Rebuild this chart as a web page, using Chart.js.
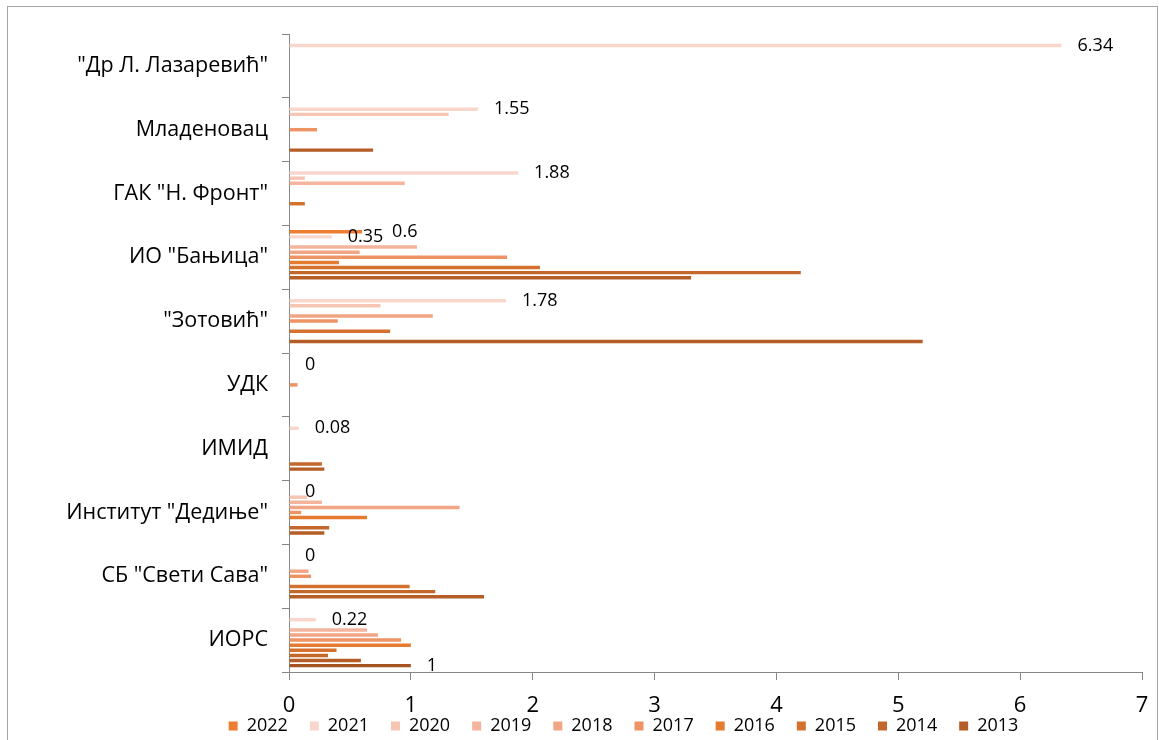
<!DOCTYPE html>
<html>
<head>
<meta charset="utf-8">
<script src="https://cdn.jsdelivr.net/npm/chart.js@4/dist/chart.umd.min.js"></script>
<style>
  html, body { margin: 0; padding: 0; background: #fff; overflow: hidden; }
  #frame { position: absolute; left: 7px; top: 6px; width: 1149px; height: 760px; border: 1.5px solid #a6a6a6; }
  #wrap { position: absolute; left: 0; top: 0; width: 1159px; height: 767px; }
</style>
</head>
<body>
<div id="frame"></div>
<div id="wrap"><canvas id="mychart"></canvas></div>
<script>
const categories = ['"Др Л. Лазаревић"', 'Младеновац', 'ГАК "Н. Фронт"', 'ИО "Бањица"', '"Зотовић"',
    'УДК', 'ИМИД', 'Институт "Дедиње"', 'СБ "Свети Сава"', 'ИОРС'];

// one array per year, in category order (top to bottom)
const v2022 = [null, null, null, 0.6, null, null, null, null, null, null];
const v2021 = [6.34, 1.55, 1.88, 0.35, 1.78, 0, 0.08, 0, 0, 0.22];
const v2020 = [null, 1.31, 0.13, null, 0.75, null, null, 0.15, null, null];
const v2019 = [null, null, 0.95, 1.05, null, null, null, 0.27, null, 0.64];
const v2018 = [null, null, null, 0.58, 1.18, null, null, 1.4, 0.16, 0.73];
const v2017 = [null, 0.23, null, 1.79, 0.4, 0.07, null, 0.1, 0.18, 0.92];
const v2016 = [null, null, null, 0.41, null, null, null, 0.64, null, 1.0];
const v2015 = [null, null, 0.13, 2.06, 0.83, null, null, null, 0.99, 0.39];
const v2014 = [null, null, null, 4.2, null, null, 0.27, 0.33, 1.2, 0.32];
const v2013 = [null, 0.69, null, 3.3, 5.2, null, 0.29, 0.29, 1.6, 0.59];
// series without a legend entry (only in ИОРС)
const vOther = [null, null, null, null, null, null, null, null, null, 1];

const xTicks = [0, 1, 2, 3, 4, 5, 6, 7];

const FONT = '"Open Sans", "Noto Sans", sans-serif';

function bars(label, data, color, showValues, labelGap) {
    return { label: label, data: data, backgroundColor: color, borderWidth: 0,
        showValues: showValues, labelGap: labelGap || 16 };
}

// draws the number labels next to some bars
const valueLabels = {
    id: 'valueLabels',
    afterDatasetsDraw(chart) {
        const c = chart.ctx;
        c.save();
        c.font = '18px ' + FONT;
        c.fillStyle = '#000';
        c.textBaseline = 'middle';
        c.textAlign = 'left';
        chart.data.datasets.forEach((ds, di) => {
            if (!ds.showValues) return;
            chart.getDatasetMeta(di).data.forEach((bar, i) => {
                const v = ds.data[i];
                if (v === null || v === undefined) return;
                c.fillText(String(v), bar.x + ds.labelGap, bar.y);
            });
        });
        c.restore();
    }
};

// legend sits a bit right of centre and just under the axis labels
const legendShift = {
    id: 'legendShift',
    afterLayout(chart) {
        const lg = chart.legend;
        lg.left += 23;
        lg.right += 23;
        lg.top -= 22;
        lg.bottom -= 22;
    }
};

const ctx = document.getElementById('mychart');
new Chart(ctx, {
    type: 'bar',
    data: {
        labels: categories,
        datasets: [
            bars('2022', v2022, '#ed7d31', true, 30),
            bars('2021', v2021, '#f9d6cb', true),
            bars('2020', v2020, '#f7c5b4', false),
            bars('2019', v2019, '#f4b59c', false),
            bars('2018', v2018, '#f1a584', false),
            bars('2017', v2017, '#ee9364', false),
            bars('2016', v2016, '#e57a31', false),
            bars('2015', v2015, '#d5712e', false),
            bars('2014', v2014, '#c4672b', false),
            bars('2013', v2013, '#b45d26', false),
            bars('', vOther, '#a65322', true)
        ]
    },
    options: {
        indexAxis: 'y',
        responsive: true,
        maintainAspectRatio: false,
        animation: false,
        categoryPercentage: 0.88,
        barPercentage: 0.68,
        layout: { padding: { left: 59, right: 17, top: 34, bottom: 0 } },
        plugins: {
            tooltip: { enabled: false },
            legend: {
                position: 'bottom',
                labels: {
                    boxWidth: 9,
                    boxHeight: 9,
                    padding: 22,
                    color: '#000',
                    font: { family: FONT, size: 18 },
                    filter: item => item.text !== ''
                }
            }
        },
        scales: {
            x: {
                min: 0,
                max: 7,
                afterBuildTicks: s => { s.ticks = xTicks.map(v => ({ value: v })); },
                afterFit: s => { s.height = 45; },
                grid: { drawOnChartArea: false, tickLength: 8, color: '#868686' },
                border: { color: '#868686' },
                ticks: { color: '#000', padding: 4, font: { family: FONT, size: 22, lineHeight: '44px' } }
            },
            y: {
                afterFit: s => { s.width = 230; },
                grid: { drawOnChartArea: false, tickLength: 7, color: '#868686', offset: true },
                border: { color: '#868686' },
                ticks: { color: '#000', padding: 14, font: { family: FONT, size: 21.5 } }
            }
        }
    },
    plugins: [valueLabels, legendShift]
});
</script>
</body>
</html>
